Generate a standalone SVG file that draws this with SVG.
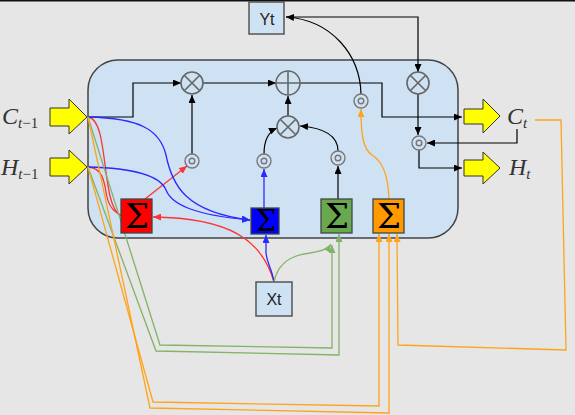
<svg xmlns="http://www.w3.org/2000/svg" width="575" height="415" viewBox="0 0 575 415">
<style>
.bg{fill:#e6e6e6}
.cell{fill:#cfe2f3;stroke:#444;stroke-width:1.5}
.op{fill:none;stroke:#666;stroke-width:1.6}
.dot{fill:none;stroke:#777;stroke-width:1.4}
.box{fill:#cfe2f3;stroke:#555;stroke-width:1.5}
.lbl{font-family:"Liberation Sans",Arial,sans-serif;font-size:16px;fill:#222;text-anchor:middle}
.sig{stroke:#444;stroke-width:1.3}
.sigt{font-family:"DejaVu Serif","Liberation Serif",serif;font-size:34px;fill:#000;text-anchor:middle}
.yel{fill:#ffff00;stroke:#333;stroke-width:1}
.tex{font-family:"Liberation Serif","Times New Roman",serif;font-style:italic;fill:#333}
.k{fill:none;stroke:#000;stroke-width:1.2;marker-end:url(#ak)}
.r{fill:none;stroke:#ff3333;stroke-width:1.3}
.b{fill:none;stroke:#2a2aff;stroke-width:1.3}
.g{fill:none;stroke:#82b366;stroke-width:1.3}
.o{fill:none;stroke:#ffa31a;stroke-width:1.3}
</style>
<defs>
<marker id="ak" markerUnits="userSpaceOnUse" markerWidth="8" markerHeight="7" refX="8" refY="3.5" orient="auto"><path d="M0,0 L8,3.5 L0,7 z" fill="#000"/></marker>
<marker id="ar" markerUnits="userSpaceOnUse" markerWidth="8" markerHeight="7" refX="8" refY="3.5" orient="auto"><path d="M0,0 L8,3.5 L0,7 z" fill="#ff3333"/></marker>
<marker id="ab" markerUnits="userSpaceOnUse" markerWidth="8" markerHeight="7" refX="8" refY="3.5" orient="auto"><path d="M0,0 L8,3.5 L0,7 z" fill="#2a2aff"/></marker>
<marker id="ag" markerUnits="userSpaceOnUse" markerWidth="8" markerHeight="7" refX="8" refY="3.5" orient="auto"><path d="M0,0 L8,3.5 L0,7 z" fill="#82b366"/></marker>
<marker id="ao" markerUnits="userSpaceOnUse" markerWidth="8" markerHeight="7" refX="8" refY="3.5" orient="auto"><path d="M0,0 L8,3.5 L0,7 z" fill="#ffa31a"/></marker>
</defs>
<rect class="bg" x="0" y="0" width="575" height="415"/>
<rect x="0" y="0" width="575" height="1.5" fill="#111"/>
<g id="cell"><rect class="cell" x="88" y="60" width="370" height="178" rx="30" ry="30"/></g>

<g id="connectors">
<path class="k" d="M88,117 H133 V83 H181"/>
<path class="k" d="M203,83 H276"/>
<path class="k" d="M192,154 V95"/>
<path class="k" d="M288,116 V96"/>
<path class="k" d="M264,154 C264,141 268,132 277,128"/>
<path class="k" d="M338,151 C338,136 326,128 300,126"/>
<path class="k" d="M300,83 H382 V117 H462"/>
<path class="k" d="M361,94 C360,55 332,20 286,17"/>
<path class="k" d="M286,17 H418 V72"/>
<path class="k" d="M418,94 V135"/>
<path class="k" d="M517,129 V143 H427"/>
<path class="k" d="M419,150 V168 H462"/>
<path class="k" d="M338,199 V166"/>
<path class="r" d="M88,117 C110,120 100,205 121,216"/>
<path class="r" d="M88,167 C102,168 104,180 106,192 C108,206 113,212 121,215"/>
<path class="r" d="M274,282 C262,240 230,218 153,217" marker-end="url(#ar)"/>
<path class="r" d="M145,199 L187,166" marker-end="url(#ar)"/>
<path class="b" d="M88,117 C140,118 160,130 166,155 C172,185 185,212 250,220" marker-end="url(#ab)"/>
<path class="b" d="M88,167 C130,168 160,175 166,190 C172,205 195,215 250,220" marker-end="url(#ab)"/>
<path class="b" d="M274,282 C272,268 266,262 266,252 V235" marker-end="url(#ab)"/>
<path class="b" d="M264,208 V169" marker-end="url(#ab)"/>
<path class="g" d="M274,282 C278,262 292,255 310,253 C322,251 328,249 331,244" marker-end="url(#ag)"/>
<path class="g" d="M88,117 L160,345 L332,348 V245" marker-end="url(#ag)"/>
<path class="g" d="M88,167 L156,351 L339,355 V234" marker-end="url(#ag)"/>
<path class="o" d="M88,117 L150,408 L389,413 V234" marker-end="url(#ao)"/>
<path class="o" d="M88,167 L153,402 L379,406 V234" marker-end="url(#ao)"/>
<path class="o" d="M535,120 H561 L566,350 L398,345 L397,234" marker-end="url(#ao)"/>
<path class="o" d="M389,199 C388,175 383,162 372,155 C363,149 361,135 361,109" marker-end="url(#ao)"/>
</g>

<g id="mul1"><circle class="op" cx="192" cy="83" r="11"/><path class="op" d="M184.2,75.2 L199.8,90.8 M199.8,75.2 L184.2,90.8"/></g>
<g id="add"><circle class="op" cx="288" cy="83" r="12"/><path class="op" d="M276,83 H300 M288,71 V95"/></g>
<g id="mul2"><circle class="op" cx="288" cy="127" r="11"/><path class="op" d="M280.2,119.2 L295.8,134.8 M295.8,119.2 L280.2,134.8"/></g>
<g id="mul3"><circle class="op" cx="418" cy="83" r="11"/><path class="op" d="M410.2,75.2 L425.8,90.8 M425.8,75.2 L410.2,90.8"/></g>

<g id="dot1"><circle class="dot" cx="192" cy="161" r="7"/><circle class="dot" cx="192" cy="161" r="2.8"/></g>
<g id="dot2"><circle class="dot" cx="264" cy="161" r="7"/><circle class="dot" cx="264" cy="161" r="2.8"/></g>
<g id="dot3"><circle class="dot" cx="338" cy="158" r="7"/><circle class="dot" cx="338" cy="158" r="2.8"/></g>
<g id="dot4"><circle class="dot" cx="361" cy="101" r="7"/><circle class="dot" cx="361" cy="101" r="2.8"/></g>
<g id="dot5"><circle class="dot" cx="419" cy="143" r="7"/><circle class="dot" cx="419" cy="143" r="2.8"/></g>

<g id="sumRed"><rect class="sig" x="121" y="199" width="31" height="34" fill="#ff0000"/><text class="sigt" x="137" y="228">Σ</text></g>
<g id="sumBlue"><rect class="sig" x="251" y="208" width="28" height="26" fill="#0000ff"/><text class="sigt" x="266" y="231" style="font-size:29px">Σ</text></g>
<g id="sumGreen"><rect class="sig" x="321" y="199" width="31" height="34" fill="#6aa84f"/><text class="sigt" x="337" y="228">Σ</text></g>
<g id="sumOrange"><rect class="sig" x="373" y="199" width="31" height="34" fill="#ff9900"/><text class="sigt" x="389" y="228">Σ</text></g>

<g id="Yt"><rect class="box" x="249" y="2" width="35" height="32"/><text class="lbl" x="267" y="25">Yt</text></g>
<g id="Xt"><rect class="box" x="256" y="282" width="36" height="34"/><text class="lbl" x="274" y="305">Xt</text></g>

<g id="inC"><polygon class="yel" points="50,108 69,108 69,99 87,117 69,134 69,126 50,126"/></g>
<g id="inH"><polygon class="yel" points="50,158 69,158 69,150 87,167 69,184 69,176 50,176"/></g>
<g id="outC"><polygon class="yel" points="464,109 483,109 483,99 500,116 483,133 483,124 464,124"/></g>
<g id="outH"><polygon class="yel" points="464,160 483,160 483,152 500,168 483,184 483,176 464,176"/></g>

<g id="labels">
<text class="tex" x="2" y="124" font-size="24">C<tspan font-size="15" dy="4">t</tspan><tspan font-size="15" font-style="normal">−1</tspan></text>
<text class="tex" x="1" y="175" font-size="24">H<tspan font-size="15" dy="4">t</tspan><tspan font-size="15" font-style="normal">−1</tspan></text>
<text class="tex" x="507" y="124" font-size="24">C<tspan font-size="15" dy="4">t</tspan></text>
<text class="tex" x="509" y="175" font-size="24">H<tspan font-size="15" dy="4">t</tspan></text>
</g>
</svg>
